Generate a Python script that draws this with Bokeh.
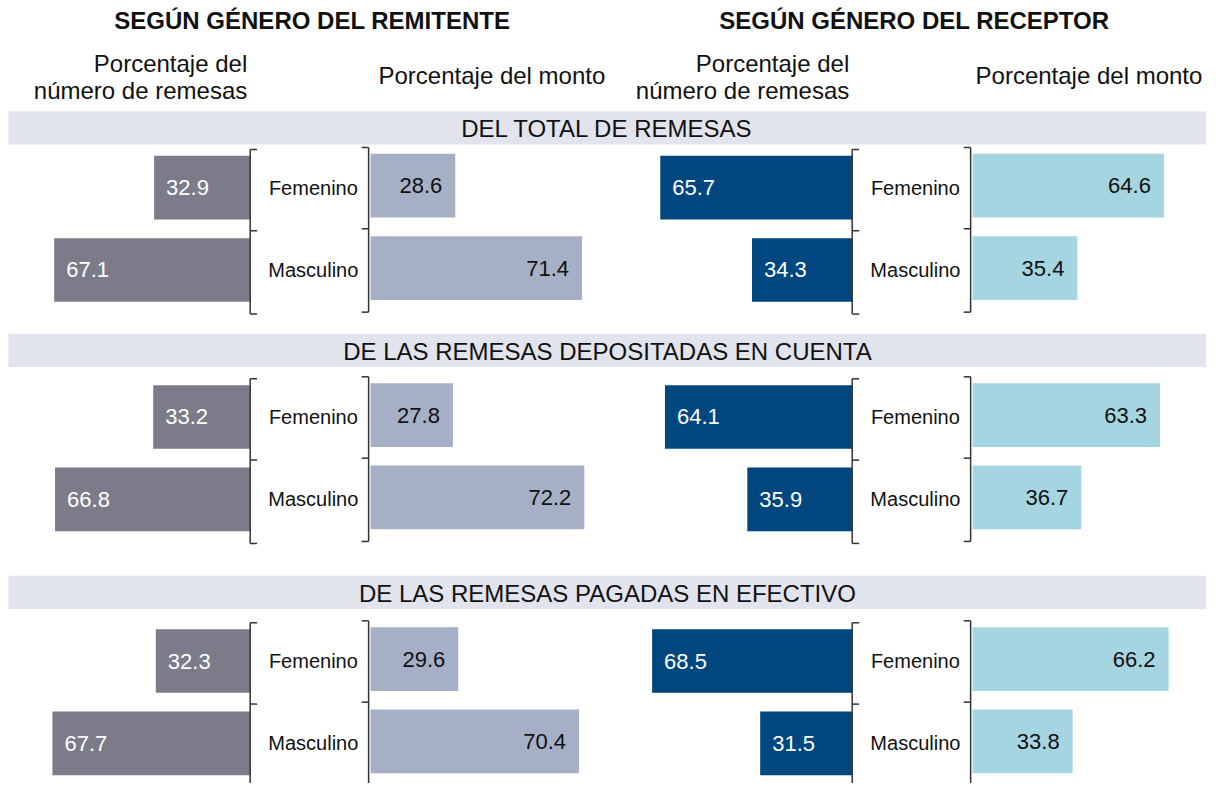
from bokeh.plotting import figure
from bokeh.models import Range1d, ColumnDataSource
from bokeh.embed import file_html
from bokeh.resources import INLINE
from bokeh.core.properties import value

# ---------------- data ----------------
panel_titles = ["SEGÚN GÉNERO DEL REMITENTE", "SEGÚN GÉNERO DEL RECEPTOR"]
num_header = ["Porcentaje del", "número de remesas"]
monto_header = "Porcentaje del monto"
sections = ["DEL TOTAL DE REMESAS",
            "DE LAS REMESAS DEPOSITADAS EN CUENTA",
            "DE LAS REMESAS PAGADAS EN EFECTIVO"]
categories = ["Femenino", "Masculino"]

# order: (section 1: Fem, Masc), (section 2: Fem, Masc), (section 3: Fem, Masc)
remitente_numero = [32.9, 67.1, 33.2, 66.8, 32.3, 67.7]
remitente_monto = [28.6, 71.4, 27.8, 72.2, 29.6, 70.4]
receptor_numero = [65.7, 34.3, 64.1, 35.9, 68.5, 31.5]
receptor_monto = [64.6, 35.4, 63.3, 36.7, 66.2, 33.8]

# ---------------- layout (design units) ----------------
W, H = 1206, 783          # canvas in screen px
DW, DH = 1222, 799        # design space
FONT = value("Liberation Sans")
band_top = [113, 340, 587]
band_h = 34
band_left = 8
fem_center = [191, 425, 674]
row_gap = 84
bar_h = 65
monto_dy = -2
num_scale = 2.96   # design px per percentage point
monto_scale = 3.0
panel_dx = [0, 610]
num_zero = 253
monto_zero = 375
bracket_l = 253
bracket_r = 373
cat_x = 317
title_x = [316, 926]
num_header_x = [250, 860]
monto_header_x = [383, 988]

colors_num = ["#7C7B8A", "#00467F"]
colors_monto = ["#A5B0C6", "#A5D5E0"]
band_color = "#E1E4EC"
ink = "#111111"

p = figure(width=W, height=H, output_backend="svg", toolbar_location=None,
           x_range=Range1d(0, DW), y_range=Range1d(DH, 0),
           x_axis_location=None, y_axis_location=None,
           min_border=0, min_border_left=0, min_border_right=0,
           min_border_top=0, min_border_bottom=0)
p.outline_line_color = None
p.grid.visible = False
p.background_fill_color = "white"
p.border_fill_color = "white"

# extra ranges: numero bars grow leftwards from their zero, monto bars rightwards
for k, dx in enumerate(panel_dx):
    z = num_zero + dx
    p.extra_x_ranges[f"num{k}"] = Range1d(z / num_scale, -(DW - z) / num_scale)
    zm = monto_zero + dx
    p.extra_x_ranges[f"monto{k}"] = Range1d(-zm / monto_scale, (DW - zm) / monto_scale)

# section bands
p.quad(left=[band_left] * 3, right=[DW] * 3, top=band_top,
       bottom=[t + band_h for t in band_top], color=band_color, line_color=None)
p.text(x=[(band_left + DW) / 2] * 3, y=[t + band_h / 2 + 1 for t in band_top], text=sections,
       text_font=FONT, text_font_size="24px", text_align="center",
       text_baseline="middle", text_color=ink)

ys = []
for c in fem_center:
    ys += [c, c + row_gap]
cats = categories * 3

series = [(remitente_numero, remitente_monto), (receptor_numero, receptor_monto)]
for k, (num_vals, monto_vals) in enumerate(series):
    dx = panel_dx[k]
    src = ColumnDataSource(dict(y=ys, ym=[y + monto_dy for y in ys],
                                num=num_vals, monto=monto_vals,
                                lbl_num=[f"{v:.1f}" for v in num_vals],
                                lbl_monto=[f"{v:.1f}" for v in monto_vals],
                                cat=cats, zero=[0] * len(ys)))
    p.hbar(y="y", height=bar_h, left="zero", right="num", source=src,
           x_range_name=f"num{k}", fill_color=colors_num[k], line_color=None)
    p.hbar(y="ym", height=bar_h, left="zero", right="monto", source=src,
           x_range_name=f"monto{k}", fill_color=colors_monto[k], line_color=None)
    p.text(x="num", y="y", text="lbl_num", source=src, x_range_name=f"num{k}",
           x_offset=12, text_align="left", text_baseline="middle",
           text_font=FONT, text_font_size="22px", text_color="white")
    p.text(x="monto", y="ym", text="lbl_monto", source=src, x_range_name=f"monto{k}",
           x_offset=-13, text_align="right", text_baseline="middle",
           text_font=FONT, text_font_size="22px", text_color=ink)
    p.text(x=[cat_x + dx] * len(ys), y=ys, text=cats, text_align="center",
           text_baseline="middle", text_font=FONT, text_font_size="20px",
           text_color=ink)

    # brackets: two stacked "[" on the left and two stacked "]" on the right
    x0s, y0s, x1s, y1s = [], [], [], []
    for c in fem_center:
        for bx, sgn, shift in ((bracket_l + dx, 1, 0), (bracket_r + dx, -1, -2)):
            top, mid, bot = c - 39 + shift, c + 44 + shift, c + row_gap + 45 + shift
            x0s += [bx, bx, bx, bx]
            y0s += [top, top, mid, bot]
            x1s += [bx, bx + 7 * sgn, bx + 7 * sgn, bx + 7 * sgn]
            y1s += [bot, top, mid, bot]
    p.segment(x0=x0s, y0=y0s, x1=x1s, y1=y1s, line_color="#333333", line_width=1.5)

    # headers
    p.text(x=[title_x[k]], y=[20], text=[panel_titles[k]], text_align="center",
           text_baseline="middle", text_font=FONT, text_font_size="24px",
           text_font_style="bold", text_color=ink)
    p.text(x=[num_header_x[k]] * 2, y=[64, 92], text=num_header, text_align="right",
           text_baseline="middle", text_font=FONT, text_font_size="24px",
           text_color=ink)
    p.text(x=[monto_header_x[k]], y=[77], text=[monto_header], text_align="left",
           text_baseline="middle", text_font=FONT, text_font_size="24px",
           text_color=ink)

open("out.html", "w").write(file_html(p, INLINE))
